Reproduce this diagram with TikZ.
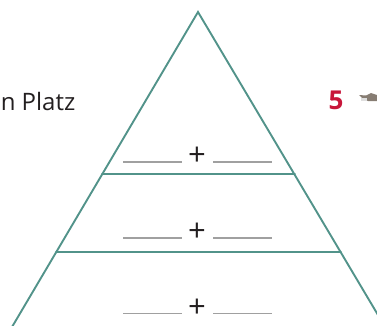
\documentclass[tikz,border=0pt]{standalone}
\usepackage{fontspec}
\setmainfont{Open Sans}
\definecolor{teal1}{RGB}{82,147,138}
\definecolor{blank1}{RGB}{160,160,160}
\definecolor{red1}{RGB}{200,22,58}
\definecolor{ink}{RGB}{35,31,32}
\definecolor{birdtone}{RGB}{135,125,115}
\tikzset{
  edgeline/.style={draw=teal1,line width=1.9pt,line cap=round},
  blankline/.style={draw=blank1,line width=1.2pt},
  plustext/.style={text=ink,font=\fontsize{31}{31}\selectfont,inner sep=0pt,anchor=center},
}
\begin{document}
\begin{tikzpicture}[x=1pt,y=-1pt]
\useasboundingbox (0,0) rectangle (377,325);
\clip (0,0) rectangle (377,325);
\coordinate (apex) at (198,12);
\coordinate (bl) at (12,327);
\coordinate (br) at (378,315);
\coordinate (l1) at (102,174);
\coordinate (r1) at (295,174);
\coordinate (l2) at (56,252);
\coordinate (r2) at (341,252);
\draw[edgeline] (bl) -- (apex) -- (br);
\draw[edgeline] (l1) -- (r1);
\draw[edgeline] (l2) -- (r2);
\node[plustext] (p1) at (197,156) {+};
\node[plustext] (p2) at (197,232) {+};
\node[plustext] (p3) at (197,308) {+};
\foreach \n/\y in {1/162,2/238,3/313.5}{
  \coordinate (a\n) at (123,\y);
  \coordinate (b\n) at (182,\y);
  \coordinate (c\n) at (213,\y);
  \coordinate (d\n) at (272,\y);
  \draw[blankline] (a\n) -- (b\n);
  \draw[blankline] (c\n) -- (d\n);
}
\node[anchor=base east,inner sep=0pt,text=ink,font=\fontsize{24}{24}\selectfont] (platz) at (75.5,110) {n Platz};
\node[anchor=base,inner sep=0pt,text=red1,font=\fontsize{26}{26}\selectfont\bfseries] (five) at (336,109.5) {5};
\fill[birdtone] (359,95) -- (366,95.5) -- (371,93) -- (377,95) -- (377,101) -- (368,101) -- (362,98) -- cycle;
\fill[gray!25] (361,98) rectangle (367,100.5);
\end{tikzpicture}
\end{document}
